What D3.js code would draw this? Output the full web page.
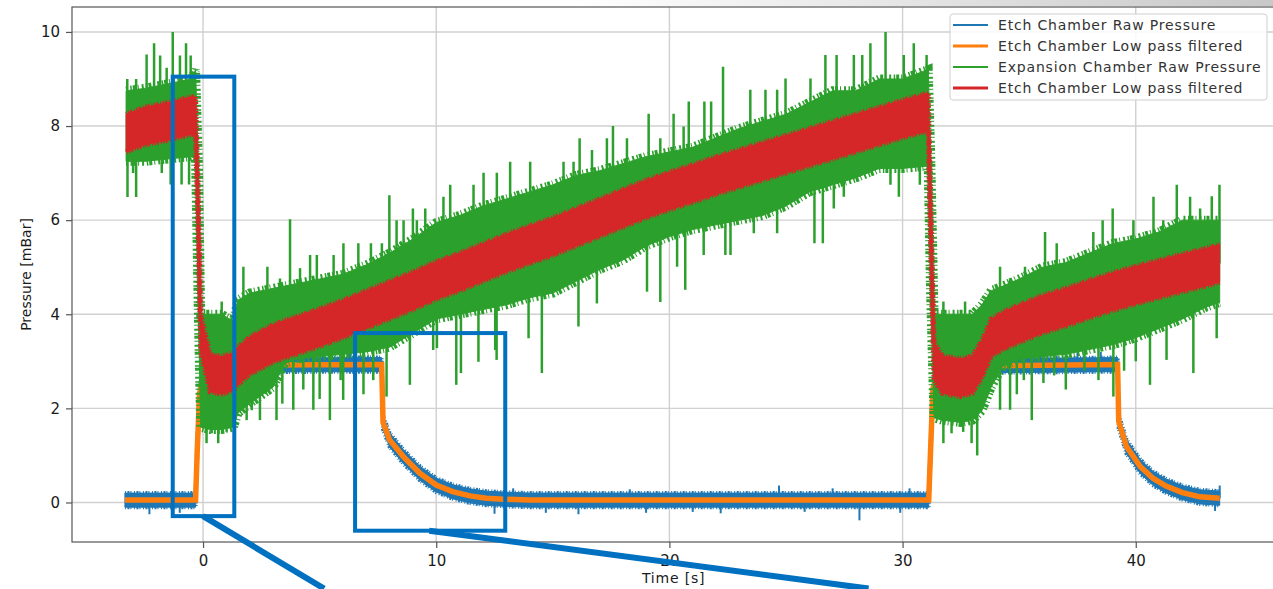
<!DOCTYPE html>
<html>
<head>
<meta charset="utf-8">
<script src="https://cdn.jsdelivr.net/npm/d3@7"></script>
<style>
  html, body { margin: 0; padding: 0; background: #fff; }
  svg { display: block; font-family: 'DejaVu Sans', sans-serif; }
</style>
</head>
<body>
<svg id="chart" width="1273" height="589"></svg>
<script>
// Etch chamber: low pass filtered curve, raw noise band around it and the odd raw spike
const etchTime = [-3.35, -0.32, -0.25, -0.15, 0.0, 0.5, 1.0, 7.66, 7.72, 8.0, 8.6, 9.3, 10.0, 10.7, 11.45, 12.15, 12.9, 14.0,
  31.12, 31.2, 31.3, 31.5, 32.0, 39.22, 39.27, 39.6, 40.2, 40.75, 41.3, 42.0, 42.75, 43.6]
const etchFiltered = [0.05, 0.05, 1.1, 2.3, 2.7, 2.88, 2.92, 2.93, 1.7, 1.33, 0.97, 0.62, 0.37, 0.23, 0.14, 0.09, 0.07, 0.05,
  0.05, 1.1, 2.4, 2.8, 2.9, 2.93, 1.72, 1.19, 0.76, 0.51, 0.35, 0.21, 0.12, 0.09]
const etchSpread = 0.15
const etchSpikes = [[-2.3, -0.25], [-1.0, -0.22], [4.3, 3.2], [5.5, 3.18], [6.3, 3.2], [12.5, -0.24], [13.3, 0.3], [14.7, -0.22],
  [16.1, -0.25], [18.3, 0.28], [19.0, -0.22], [21.0, -0.2], [22.2, -0.23], [24.7, 0.36], [25.8, -0.2], [27.0, 0.3],
  [28.15, -0.38], [29.9, -0.22], [30.3, 0.3], [35.9, 3.22], [37.5, 3.22], [38.5, 3.2], [43.4, -0.18], [43.6, 0.36]]

// Expansion chamber: filtered curve, raw band edges and raw spikes
const expTime = [-3.3, -2.5, -1.5, -0.5, -0.32, -0.2, -0.1, 0.3, 0.8, 1.3, 1.5, 2, 3, 3.5, 4, 5, 6, 7, 8, 9, 10, 11, 12, 13, 14,
  15, 16, 17, 18, 19, 20, 21, 22, 23, 24, 25, 26, 27, 28, 29, 30, 31.1, 31.2, 31.35, 31.7, 32.5, 33, 33.4, 33.8, 34.3,
  35, 36, 37, 38, 39, 40, 41, 42, 43, 43.6]
const expFiltered = [7.85, 8.0, 8.1, 8.22, 8.22, 6.0, 3.6, 2.75, 2.7, 2.78, 2.9, 3.12, 3.38, 3.47, 3.55, 3.72, 3.9, 4.1, 4.3,
  4.5, 4.72, 4.9, 5.1, 5.3, 5.48, 5.65, 5.85, 6.05, 6.25, 6.45, 6.62, 6.78, 6.95, 7.1, 7.25, 7.4, 7.55, 7.7, 7.85, 8.0,
  8.15, 8.3, 6.0, 3.0, 2.72, 2.65, 2.72, 3.05, 3.5, 3.65, 3.8, 4.0, 4.15, 4.32, 4.48, 4.62, 4.75, 4.88, 5.0, 5.08]
const expRawHigh = [8.75, 8.8, 8.9, 9.0, 9.2, 7.2, 4.0, 4.0, 4.0, 3.85, 4.3, 4.45, 4.55, 4.6, 4.65, 4.75, 4.85, 5.05, 5.3,
  5.6, 5.95, 6.1, 6.3, 6.45, 6.6, 6.75, 6.95, 7.05, 7.2, 7.35, 7.45, 7.55, 7.75, 7.95, 8.1, 8.25, 8.5, 8.75, 8.75, 9.0,
  9.0, 9.2, 7.5, 4.0, 4.0, 4.0, 4.0, 4.2, 4.5, 4.6, 4.75, 5.0, 5.1, 5.3, 5.5, 5.6, 5.75, 6.0, 6.0, 6.0]
const expRawLow = [7.25, 7.25, 7.3, 7.35, 7.3, 4.0, 1.6, 1.55, 1.55, 1.6, 1.9, 2.1, 2.45, 2.95, 3.05, 3.1, 3.15, 3.2, 3.3,
  3.6, 3.9, 4.0, 4.1, 4.2, 4.35, 4.45, 4.7, 4.95, 5.15, 5.45, 5.65, 5.8, 5.9, 6.0, 6.1, 6.3, 6.6, 6.75, 6.9, 7.1,
  7.1, 7.15, 4.5, 1.8, 1.75, 1.7, 1.75, 1.95, 2.45, 2.9, 3.05, 3.1, 3.15, 3.25, 3.35, 3.5, 3.7, 3.9, 4.15, 4.25]
const expSpread = 0.4
const expSpikesUp = [[-3.25, 9.0], [-2.87, 9.0], [-2.42, 9.52], [-2.1, 9.76], [-1.84, 9.5], [-1.56, 9.24], [-1.3, 10.0],
  [-0.99, 9.5], [-0.73, 9.76], [-0.53, 9.5], [0.8, 4.27], [1.73, 5.01], [2.76, 5.01], [3.3, 4.76], [3.73, 6.02],
  [4.16, 4.98], [4.59, 5.26], [4.88, 5.26], [5.6, 5.26], [6.02, 5.51], [6.66, 5.51], [7.2, 5.51], [7.67, 5.51],
  [7.99, 6.53], [8.3, 6.0], [8.6, 6.0], [9.0, 6.25], [9.17, 6.0], [9.53, 6.25], [10.31, 6.5], [10.6, 6.75], [11.6, 6.75],
  [12.03, 7.01], [12.6, 7.01], [13.17, 7.24], [14.03, 7.24], [15.46, 7.24], [15.89, 7.24], [16.15, 7.74], [16.68, 7.49],
  [17.32, 7.74], [17.58, 8.0], [18.18, 7.74], [19.11, 8.26], [19.61, 7.74], [20.18, 8.26], [20.61, 7.99], [20.83, 8.52],
  [21.5, 8.52], [21.79, 8.52], [22.3, 9.26], [23.47, 8.77], [24.12, 8.77], [24.62, 8.77], [24.98, 9.01], [26.05, 9.01],
  [26.69, 9.51], [27.17, 9.51], [27.91, 9.51], [28.27, 9.51], [28.62, 9.76], [29.27, 10.0], [30.05, 9.51], [30.48, 9.76],
  [31.03, 9.51], [31.75, 4.27], [32.68, 4.27], [33.75, 4.52], [34.18, 5.01], [34.61, 4.76], [35.25, 5.01], [36.11, 5.75],
  [36.61, 5.51], [38.18, 5.75], [38.58, 6.0], [39.01, 6.25], [39.9, 6.0], [40.76, 6.5], [41.18, 6.0], [41.76, 6.75],
  [42.33, 6.5], [42.76, 6.25], [43.26, 6.51], [43.59, 6.75]]
const expSpikesDown = [[-3.24, 6.49], [-3.0, 7.0], [-2.87, 6.49], [-1.77, 7.0], [-1.39, 6.76], [-0.92, 6.76], [-0.6, 6.76],
  [0.15, 1.26], [0.37, 1.47], [0.65, 1.26], [1.01, 1.5], [1.87, 1.75], [2.09, 1.96], [2.44, 1.75], [2.7, 2.3], [3.15, 1.75],
  [3.4, 2.1], [3.87, 1.97], [4.3, 2.4], [4.73, 1.97], [5.0, 2.2], [5.44, 1.75], [5.9, 2.6], [6.01, 2.18], [6.5, 2.4],
  [6.88, 2.3], [7.3, 2.6], [7.87, 2.25], [8.87, 2.5], [9.87, 3.24], [10.03, 3.28], [10.86, 2.5], [11.06, 2.75],
  [11.81, 2.99], [12.53, 3.24], [12.59, 3.03], [13.96, 3.49], [14.53, 2.75], [16.1, 3.74], [16.89, 4.23], [19.04, 4.48],
  [19.61, 4.26], [20.33, 5.01], [20.68, 4.52], [21.47, 5.26], [22.4, 5.26], [22.62, 5.26], [23.62, 5.72], [24.62, 5.72],
  [26.22, 5.51], [26.58, 5.51], [27.05, 6.25], [27.48, 6.5], [29.48, 6.75], [29.84, 6.5], [30.74, 6.75], [31.75, 1.26],
  [32.1, 1.47], [32.6, 1.5], [32.96, 1.26], [33.2, 1.0], [33.68, 2.46], [34.18, 1.97], [34.61, 1.97], [34.9, 2.3],
  [35.2, 2.6], [35.54, 1.75], [36.04, 2.54], [36.5, 2.7], [37.0, 2.4], [37.8, 2.8], [38.4, 2.6], [39.04, 2.25],
  [39.5, 2.8], [40.0, 3.0], [40.61, 2.5], [41.32, 3.03], [42.47, 2.75], [43.47, 3.49]]

const xTicks = [0, 10, 20, 30, 40]
const yTicks = [0, 2, 4, 6, 8, 10]
const seriesNames = ['Etch Chamber Raw Pressure', 'Etch Chamber Low pass filtered',
  'Expansion Chamber Raw Pressure', 'Etch Chamber Low pass filtered']
const seriesColors = ['#1f77b4', '#ff7f0e', '#2ca02c', '#d62728']
const seriesWidths = [2, 3, 2, 3]

// callout boxes drawn over the plot, in data units
const zoomBoxes = [{ t0: -1.3, t1: 1.34, p0: -0.29, p1: 9.05 }, { t0: 6.52, t1: 12.96, p0: -0.6, p1: 3.6 }]
const zoomLeaders = [[0, -0.29, 5.19, -1.83], [9.7, -0.6, 28.54, -1.83]]

const plot = { left: 72, right: 1274.5, top: 7, bottom: 542 }
const svg = d3.select('#chart')

const x = d3.scaleLinear().domain([-5.62, 45.95]).range([plot.left, plot.right])
const y = d3.scaleLinear().domain([-0.84, 10.53]).range([plot.bottom, plot.top])

/**
 * Draws the light grid and the frame of the axes.
 */
function drawGrid () {
  const g = svg.append('g').attr('class', 'grid')
  g.selectAll('.vgrid')
    .data(xTicks)
    .join('line')
    .attr('x1', (d) => x(d)).attr('x2', (d) => x(d))
    .attr('y1', plot.top).attr('y2', plot.bottom)
    .attr('stroke', '#d0d0d0').attr('stroke-width', 1.4)
  g.selectAll('.hgrid')
    .data(yTicks)
    .join('line')
    .attr('x1', plot.left).attr('x2', plot.right)
    .attr('y1', (d) => y(d)).attr('y2', (d) => y(d))
    .attr('stroke', '#d0d0d0').attr('stroke-width', 1.4)
}

/**
 * Draws both axes with their tick labels and titles.
 */
function drawAxes () {
  const xAxis = svg.append('g')
    .attr('transform', 'translate(0,' + plot.bottom + ')')
    .call(d3.axisBottom(x).tickValues(xTicks).tickSize(6).tickPadding(7).tickFormat(d3.format('d')))
  const yAxis = svg.append('g')
    .attr('transform', 'translate(' + plot.left + ',0)')
    .call(d3.axisLeft(y).tickValues(yTicks).tickSize(6).tickPadding(6).tickFormat(d3.format('d')))
  for (const axis of [xAxis, yAxis]) {
    axis.select('.domain').remove()
    axis.selectAll('line').attr('stroke', '#555').attr('stroke-width', 1.2)
    axis.selectAll('text').attr('fill', '#1a1a1a').style('font-size', '15px').style('font-family', 'DejaVu Sans')
  }

  svg.append('rect')
    .attr('x', plot.left).attr('y', plot.top)
    .attr('width', plot.right - plot.left).attr('height', plot.bottom - plot.top)
    .attr('fill', 'none').attr('stroke', '#555').attr('stroke-width', 1.2)

  svg.append('text')
    .attr('x', (plot.left + plot.right) / 2).attr('y', 583)
    .attr('text-anchor', 'middle')
    .style('font-size', '14px').attr('fill', '#1a1a1a')
    .text('Time [s]')
    .attr('textLength', function () { return this.getComputedTextLength() * 1.1 })
  svg.append('text')
    .attr('transform', 'translate(31,' + (plot.top + plot.bottom) / 2 + ') rotate(-90)')
    .attr('text-anchor', 'middle')
    .style('font-size', '14px').attr('fill', '#1a1a1a')
    .text('Pressure [mBar]')
}

/**
 * Draws a filled band between two curves, with a ragged dashed rim on both edges
 * so the dense noisy trace does not look like a smooth ribbon.
 *
 * @param {*} g The group to draw in
 * @param {object[]} rows Rows with t, lo and hi
 * @param {string} color The fill colour
 * @param {number} rim The width of the ragged rim
 * @param {string} dash The dash pattern of the rim
 */
function drawBand (g, rows, color, rim, dash) {
  g.append('path')
    .datum(rows)
    .attr('fill', color)
    .attr('stroke', color)
    .attr('stroke-width', 1)
    .attr('d', d3.area().x((d) => x(d.t)).y0((d) => y(d.lo)).y1((d) => y(d.hi)))
  for (const key of ['lo', 'hi']) {
    g.append('path')
      .datum(rows)
      .attr('fill', 'none')
      .attr('stroke', color)
      .attr('stroke-width', rim)
      .attr('stroke-dasharray', dash)
      .attr('d', d3.line().x((d) => x(d.t)).y((d) => y(d[key])))
  }
}

/**
 * Draws raw spikes as vertical strokes from the filtered curve out to the spike value.
 *
 * @param {*} g The group to draw in
 * @param {number[][]} spikes Pairs of [time, pressure]
 * @param {*} base Scale giving the filtered value at a time
 * @param {string} color The stroke colour
 * @param {number} width The stroke width
 */
function drawSpikes (g, spikes, base, color, width) {
  g.append('g')
    .selectAll('line')
    .data(spikes)
    .join('line')
    .attr('x1', (d) => x(d[0])).attr('x2', (d) => x(d[0]))
    .attr('y1', (d) => y(d[1])).attr('y2', (d) => y(base(d[0])))
    .attr('stroke', color).attr('stroke-width', width)
}

/**
 * Draws the four series inside the clipped plot area.
 */
function drawSeries () {
  svg.append('clipPath').attr('id', 'plot-clip')
    .append('rect')
    .attr('x', plot.left).attr('y', plot.top)
    .attr('width', plot.right - plot.left).attr('height', plot.bottom - plot.top)
  const g = svg.append('g').attr('id', 'graph-g').attr('clip-path', 'url(#plot-clip)')

  const etchAt = d3.scaleLinear().domain(etchTime).range(etchFiltered)
  const expAt = d3.scaleLinear().domain(expTime).range(expFiltered)

  const etchRows = etchTime.map((t, i) => ({ t, lo: etchFiltered[i] - etchSpread, hi: etchFiltered[i] + etchSpread }))
  drawBand(g, etchRows, seriesColors[0], 4, '1,1.5,2,1,1,2.5')
  drawSpikes(g, etchSpikes, etchAt, seriesColors[0], 2)
  g.append('path')
    .datum(etchTime.map((t, i) => ({ t, v: etchFiltered[i] })))
    .attr('fill', 'none')
    .attr('stroke', seriesColors[1])
    .attr('stroke-width', 5.5)
    .attr('d', d3.line().x((d) => x(d.t)).y((d) => y(d.v)))

  const rawRows = expTime.map((t, i) => ({ t, lo: expRawLow[i], hi: expRawHigh[i] }))
  drawBand(g, rawRows, seriesColors[2], 9, '2,2.5,1.5,1,3,2,1,3')
  drawSpikes(g, expSpikesUp, expAt, seriesColors[2], 2.5)
  drawSpikes(g, expSpikesDown, expAt, seriesColors[2], 2.5)

  const filtRows = expTime.map((t, i) => ({ t, lo: expFiltered[i] - expSpread, hi: expFiltered[i] + expSpread }))
  drawBand(g, filtRows, seriesColors[3], 5, '1,1.5,1.5,1,2,2')
}

/**
 * Draws the legend box in the upper right corner.
 */
function drawLegend () {
  const g = svg.append('g').attr('class', 'legend')
  g.append('rect')
    .attr('x', 950).attr('y', 14).attr('width', 317).attr('height', 86)
    .attr('rx', 3)
    .attr('fill', '#fff').attr('fill-opacity', 0.85)
    .attr('stroke', '#cfcfcf')
  const rows = g.selectAll('.entry')
    .data(seriesNames)
    .join('g')
    .attr('class', 'entry')
    .attr('transform', (d, i) => 'translate(953,' + (25 + i * 21) + ')')
  rows.append('line')
    .attr('x1', 0).attr('x2', 35)
    .attr('stroke', (d, i) => seriesColors[i])
    .attr('stroke-width', (d, i) => seriesWidths[i])
  rows.append('text')
    .attr('x', 45).attr('dy', '0.36em')
    .style('font-size', '14px').attr('fill', '#333')
    .text((d) => d)
    .attr('textLength', function () { return this.getComputedTextLength() * 1.1 })
}

/**
 * Draws the blue callout boxes and the leader lines running off the bottom.
 */
function drawCallouts () {
  const g = svg.append('g').attr('class', 'callouts')
  g.selectAll('rect')
    .data(zoomBoxes)
    .join('rect')
    .attr('x', (d) => x(d.t0)).attr('y', (d) => y(d.p1))
    .attr('width', (d) => x(d.t1) - x(d.t0)).attr('height', (d) => y(d.p0) - y(d.p1))
    .attr('fill', 'none').attr('stroke', '#0070c0').attr('stroke-width', 4)
  g.selectAll('line')
    .data(zoomLeaders)
    .join('line')
    .attr('x1', (d) => x(d[0])).attr('y1', (d) => y(d[1]))
    .attr('x2', (d) => x(d[2])).attr('y2', (d) => y(d[3]))
    .attr('stroke', '#0070c0').attr('stroke-width', 6)
}

/**
 * Faint page shadow along the top right edge of the screenshot.
 */
function drawShadow () {
  const grad = svg.append('defs').append('linearGradient').attr('id', 'shade')
  grad.append('stop').attr('offset', '0.45').attr('stop-color', '#fff')
  grad.append('stop').attr('offset', '1').attr('stop-color', '#c8c8c8')
  svg.append('rect').attr('x', 0).attr('y', 0).attr('width', 1273).attr('height', 6).attr('fill', 'url(#shade)')
}

drawShadow()
drawGrid()
drawSeries()
drawAxes()
drawLegend()
drawCallouts()
</script>
</body>
</html>
